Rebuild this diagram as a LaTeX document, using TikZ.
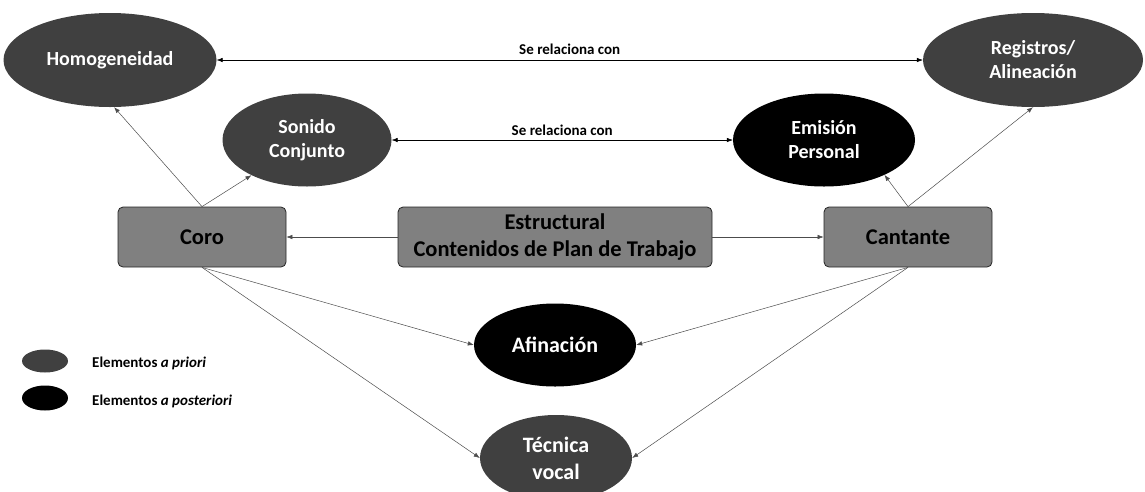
\documentclass[tikz,border=0pt]{standalone}
\usepackage{fontspec}
\setmainfont{Carlito}
\usetikzlibrary{arrows.meta,shapes.geometric}

\definecolor{grisoscuro}{HTML}{404040}
\definecolor{grismedio}{HTML}{808080}

\tikzset{
    apriori/.style={ellipse, fill=grisoscuro, text=white, align=center, inner sep=0pt,
        font=\bfseries\fontsize{20}{24}\selectfont},
    aposteriori/.style={apriori, fill=black},
    grande/.style={font=\bfseries\fontsize{22}{27}\selectfont},
    caja/.style={rectangle, rounded corners=5pt, draw=black!85, line width=0.8pt,
        fill=grismedio, align=center, minimum height=60pt, inner sep=0pt,
        font=\bfseries\fontsize{22.5}{27.5}\selectfont},
    flecha/.style={-{Latex[length=6pt,width=4.5pt]}, draw=black!70, line width=0.5pt},
    doble/.style={{Latex[length=6pt,width=4.5pt]}-{Latex[length=6pt,width=4.5pt]}, draw=black, line width=0.5pt},
    etiqueta/.style={font=\bfseries\fontsize{15}{18}\selectfont}
}

\begin{document}
\begin{tikzpicture}[x=1pt, y=-1pt]
    \useasboundingbox (0,0) rectangle (1145,491);

    % elipses de arriba
    \node[apriori, minimum width=213pt, minimum height=94pt] (homog) at (110,60) {Homogeneidad};
    \node[apriori, minimum width=220pt, minimum height=94pt] (regis) at (1033,60) {Registros/\\Alineación};
    \node[apriori, minimum width=169pt, minimum height=93pt] (sonido) at (307,140) {Sonido\\Conjunto};
    \node[aposteriori, minimum width=182pt, minimum height=93pt] (emision) at (824,140) {Emisión\\Personal};

    % cajas
    \node[caja, minimum width=168pt] (coro) at (202,237) {Coro};
    \node[caja, minimum width=314pt] (estruct) at (555,237) {Estructural\\Contenidos de Plan de Trabajo};
    \node[caja, minimum width=168pt] (cantante) at (908,237) {Cantante};

    % elipses de abajo
    \node[aposteriori, grande, minimum width=162pt, minimum height=83pt] (afina) at (555,345) {Afinación};
    \node[apriori, grande, minimum width=152pt, minimum height=86pt] (tecnica) at (556,458) {Técnica\\vocal};

    % se relaciona con
    \draw[doble] (homog.east) -- (regis.west) node[midway, above=2pt, etiqueta] {Se relaciona con};
    \draw[doble] (sonido.east) -- (emision.west) node[midway, above=1pt, etiqueta] {Se relaciona con};

    % estructural hacia coro y cantante
    \draw[flecha] (estruct.west) -- (coro.east);
    \draw[flecha] (estruct.east) -- (cantante.west);

    % coro
    \draw[flecha] (coro.north) -- (homog.-85);
    \draw[flecha] (coro.north) -- (sonido);
    \draw[flecha] (coro.south) -- (afina.west);
    \draw[flecha] (coro.south) -- (tecnica.west);

    % cantante
    \draw[flecha] (cantante.north) -- (emision.-30);
    \draw[flecha] (cantante.north) -- (regis.south);
    \draw[flecha] (cantante.south) -- (afina.east);
    \draw[flecha] (cantante.south) -- (tecnica.east);

    % leyenda
    \node[apriori, minimum width=46pt, minimum height=23pt] (leyA) at (45,361) {};
    \node[aposteriori, minimum width=46pt, minimum height=25pt] (leyB) at (45,398) {};
    \node[etiqueta, anchor=west, inner sep=0pt] (txtA) at (92,363) {Elementos \textit{a priori}};
    \node[etiqueta, anchor=west, inner sep=0pt] (txtB) at (92,401) {Elementos \textit{a posteriori}};
\end{tikzpicture}
\end{document}
